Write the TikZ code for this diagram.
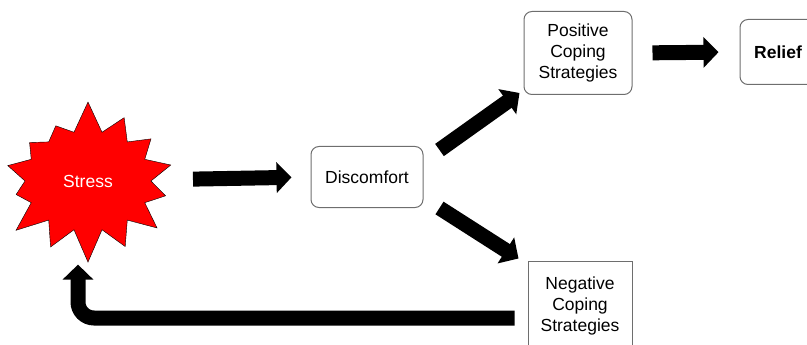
\documentclass[tikz,border=0pt]{standalone}
\usepackage{fontspec}
\setmainfont{Liberation Sans}
\usetikzlibrary{arrows.meta,positioning,shapes.symbols}
\definecolor{boxgray}{RGB}{110,110,110}

\begin{document}
\begin{tikzpicture}[
  x=1pt, y=-1pt,
  font=\fontsize{17.5}{21}\selectfont,
  b/.style={draw=boxgray, rounded corners=8pt, align=center, line width=1pt},
  sq/.style={draw=boxgray, align=center, line width=1pt},
  a/.style={-{Triangle[length=15pt, width=30pt]}, line width=15pt}
]
\clip (0,0) rectangle (807,345);
\node[starburst, starburst points=14, starburst point height=32pt, random starburst=7,
      draw, fill=red, minimum width=190pt, minimum height=164pt, text=white] (stress) at (88,181) {Stress};
\node[b, minimum width=112pt, minimum height=61pt] (disc) at (367,177) {Discomfort};
\node[b, minimum width=108pt, minimum height=83pt] (pos) at (578,53) {Positive\\Coping\\Strategies};
\node[b, minimum width=76pt, minimum height=65pt, font=\fontsize{17.5}{21}\selectfont\bfseries] (relief) at (778,52) {Relief};
\node[sq, minimum width=104pt, minimum height=90pt] (neg) at (580,306) {Negative\\Coping\\Strategies};
\draw[a, shorten <=105pt, shorten >=19pt] (stress.center) -- (disc.west);
\draw[a] ([xshift=16pt,yshift=-4pt]disc.north east) -- ([xshift=-4pt,yshift=2pt]pos.south west);
\draw[a] ([xshift=16pt]disc.south east) -- ([xshift=-9pt,yshift=2pt]neg.north west);
\draw[a, shorten <=20pt, shorten >=21pt] (pos.east) -- (relief.west);
\draw[a, rounded corners=16pt, shorten >=2pt] ([xshift=-13pt,yshift=-12pt]neg.west) -| ([xshift=-10pt]stress.south);
\end{tikzpicture}
\end{document}
